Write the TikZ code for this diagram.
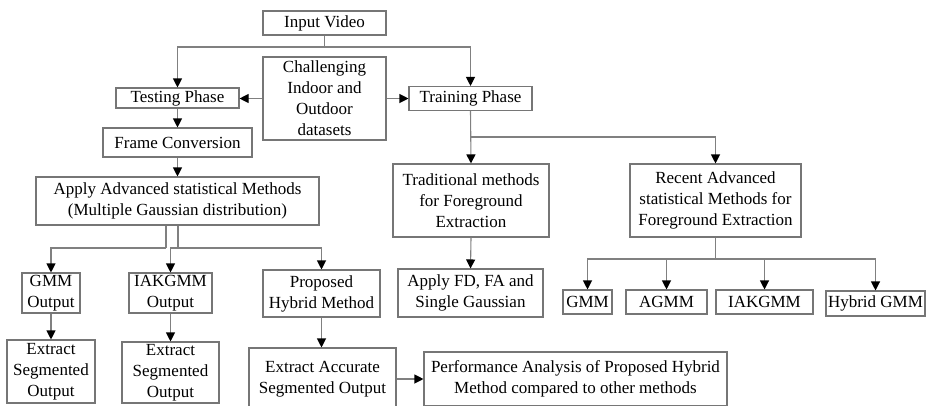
\documentclass[tikz,border=0pt]{standalone}
\usepackage{fontspec}
\setmainfont{Liberation Serif}
\usetikzlibrary{arrows.meta}

\tikzset{
  box/.style={draw=boxgray, line width=1.1pt, inner sep=0pt, align=center,
    font=\fontsize{17}{21}\selectfont, text=black},
  link/.style={draw=linegray, line width=1.1pt},
  arr/.style={link, -{Triangle[length=9pt,width=9pt,color=black]}},
}
\definecolor{boxgray}{RGB}{118,118,118}
\definecolor{linegray}{RGB}{128,128,128}

\begin{document}
\begin{tikzpicture}[x=1pt,y=-1pt]
\useasboundingbox (0,0) rectangle (933,405);
\clip (0,0) rectangle (933,405);

% top of the chart
\node[box, minimum width=123, minimum height=24] (in) at (324.5,23) {Input Video};
\node[box, minimum width=123, minimum height=83] (chal) at (324.5,98.5)
  {Challenging\\Indoor and\\Outdoor\\datasets};
\node[box, minimum width=123, minimum height=20] (test) at (177.5,98) {Testing Phase};
\node[box, minimum width=123, minimum height=24] (train) at (470.5,98.5) {Training Phase};

% testing branch
\node[box, minimum width=149, minimum height=29] (frame) at (177.5,142.5) {Frame Conversion};
\node[box, minimum width=283, minimum height=48] (apply) at (177.5,201)
  {Apply Advanced statistical Methods\\(Multiple Gaussian distribution)};
\node[box, minimum width=58, minimum height=40] (gmmout) at (51,293) {GMM\\Output};
\node[box, minimum width=83, minimum height=40] (iakout) at (170.5,293) {IAKGMM\\Output};
\node[box, minimum width=117, minimum height=47] (prop) at (321.5,293.5) {Proposed\\Hybrid Method};
\node[box, minimum width=88, minimum height=63] (ext1) at (51,371.5) {Extract\\Segmented\\Output};
\node[box, minimum width=97, minimum height=61] (ext2) at (170.5,372.5) {Extract\\Segmented\\Output};
\node[box, minimum width=147, minimum height=62] (acc) at (322.5,379)
  {Extract Accurate\\Segmented Output};
\node[box, minimum width=303, minimum height=54] (perf) at (575.5,379)
  {Performance Analysis of Proposed Hybrid\\Method compared to other methods};

% training branch
\node[box, minimum width=156, minimum height=73] (trad) at (471,200.5)
  {Traditional methods\\for Foreground\\Extraction};
\node[box, minimum width=171, minimum height=73] (recent) at (715.5,200.5)
  {Recent Advanced\\statistical Methods for\\Foreground Extraction};
\node[box, minimum width=145, minimum height=48] (fd) at (470.5,293)
  {Apply FD, FA and\\Single Gaussian};
\node[box, minimum width=49, minimum height=24] (gmm) at (587.5,302) {GMM};
\node[box, minimum width=81, minimum height=24] (agmm) at (666.5,302) {AGMM};
\node[box, minimum width=97, minimum height=24] (iak) at (764.5,302) {IAKGMM};
\node[box, minimum width=99, minimum height=25] (hyb) at (875.5,303.5) {Hybrid GMM};

% junction points
\coordinate (jin) at (324.5,47);
\coordinate (jtrain) at (470.5,137);
\coordinate (jrec) at (715.5,259);
\coordinate (ja) at (166,248);
\coordinate (jb) at (178,248);

% connectors
\draw[link] (in.south) -- (jin);
\draw[arr] (jin) -| (test.north);
\draw[arr] (jin) -| (train.north);
\draw[arr] (chal.west) -- (chal.west -| test.east);
\draw[arr] (chal.east) -- (chal.east -| train.west);
\draw[arr] (test.south) -- (frame.north);
\draw[arr] (frame.south) -- (apply.north);

\draw[link] (ja |- apply.south) -- (ja);
\draw[arr] (ja) -| (gmmout.north);
\draw[link] (jb |- apply.south) -- (jb);
\draw[arr] (jb) -| (iakout.north);
\draw[arr] (jb) -| (prop.north);
\draw[arr] (gmmout.south) -- (ext1.north);
\draw[arr] (iakout.south) -- (ext2.north);
\draw[arr] (prop.south) -- (prop.south |- acc.north);
\draw[arr] (acc.east) -- (perf.west);

\draw[arr] (train.south) -- (trad.north);
\draw[arr] (jtrain) -| (recent.north);
\draw[arr] (trad.south) -- (fd.north);
\draw[link] (recent.south) -- (jrec);
\draw[arr] (jrec) -| (gmm.north);
\draw[arr] (jrec) -| (agmm.north);
\draw[arr] (jrec) -| (iak.north);
\draw[arr] (jrec) -| (hyb.north);
\end{tikzpicture}
\end{document}
